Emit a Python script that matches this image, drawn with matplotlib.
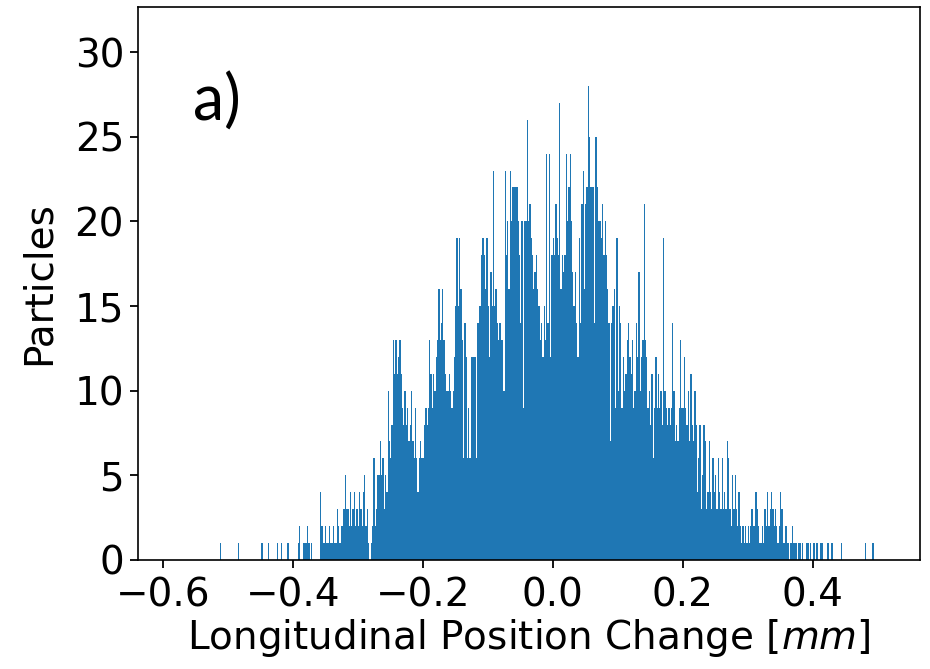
import numpy as np
import matplotlib
matplotlib.use("Agg")
import matplotlib.pyplot as plt

# histogramm: bins of 0.002 mm from -0.52 to 0.50, counts
bin_start = -0.52
bin_width = 0.002
counts = [
    0, 0, 0, 0, 1, 0, 0, 0, 0, 0,
    0, 0, 0, 0, 0, 0, 0, 0, 1, 0,
    0, 0, 0, 0, 0, 0, 0, 0, 0, 0,
    0, 0, 0, 0, 0, 0, 1, 0, 0, 0,
    0, 1, 0, 0, 0, 0, 0, 0, 1, 0,
    0, 1, 0, 0, 0, 0, 1, 0, 0, 0,
    0, 0, 0, 0, 1, 2, 0, 0, 1, 1,
    1, 2, 1, 0, 1, 0, 0, 0, 0, 0,
    0, 4, 2, 1, 1, 2, 1, 1, 2, 1,
    1, 2, 1, 1, 3, 2, 1, 2, 2, 3,
    5, 3, 3, 2, 4, 2, 3, 4, 2, 3,
    2, 4, 3, 2, 4, 5, 2, 3, 1, 0,
    1, 2, 6, 2, 3, 5, 5, 7, 5, 6,
    3, 5, 4, 10, 7, 6, 8, 13, 11, 13,
    11, 12, 13, 11, 9, 8, 10, 8, 9, 7,
    8, 10, 7, 6, 9, 6, 4, 6, 7, 6,
    6, 8, 9, 8, 9, 13, 11, 9, 11, 10,
    12, 13, 16, 13, 14, 16, 13, 11, 10, 10,
    11, 10, 9, 10, 12, 15, 19, 15, 19, 16,
    13, 6, 14, 12, 6, 9, 6, 12, 12, 12,
    12, 6, 14, 15, 15, 18, 19, 18, 16, 19,
    15, 12, 17, 15, 23, 15, 16, 14, 13, 14,
    13, 13, 10, 23, 18, 20, 16, 23, 20, 22,
    22, 22, 22, 20, 18, 14, 20, 9, 20, 20,
    26, 20, 21, 19, 18, 16, 17, 18, 16, 15,
    13, 14, 12, 15, 13, 24, 14, 24, 12, 18,
    19, 18, 21, 19, 18, 27, 16, 18, 17, 18,
    24, 20, 22, 24, 20, 17, 15, 17, 14, 12,
    19, 14, 21, 23, 16, 21, 22, 28, 25, 22,
    22, 22, 14, 25, 22, 20, 20, 19, 21, 18,
    20, 18, 16, 14, 7, 14, 15, 16, 9, 19,
    10, 15, 14, 9, 12, 10, 11, 13, 14, 12,
    11, 13, 9, 10, 14, 12, 17, 10, 12, 13,
    21, 13, 12, 9, 10, 8, 11, 6, 9, 12,
    9, 11, 9, 10, 8, 19, 10, 9, 8, 9,
    8, 9, 14, 10, 7, 8, 7, 9, 13, 9,
    9, 12, 9, 8, 10, 7, 11, 8, 7, 10,
    8, 4, 6, 8, 3, 5, 8, 7, 3, 4,
    7, 4, 3, 6, 4, 5, 3, 6, 4, 3,
    6, 3, 4, 3, 7, 6, 3, 2, 5, 3,
    5, 3, 2, 4, 2, 1, 2, 1, 2, 1,
    2, 1, 2, 3, 2, 2, 4, 3, 2, 1,
    1, 2, 1, 3, 2, 4, 2, 3, 4, 3,
    2, 3, 2, 1, 2, 4, 3, 1, 1, 2,
    1, 1, 0, 1, 2, 1, 1, 1, 0, 1,
    1, 0, 1, 0, 0, 1, 1, 0, 1, 0,
    1, 1, 0, 1, 0, 0, 1, 1, 0, 0,
    0, 1, 1, 0, 1, 1, 0, 0, 0, 0,
    0, 0, 1, 0, 0, 0, 0, 0, 0, 0,
    0, 0, 0, 0, 0, 0, 0, 0, 0, 0,
    1, 0, 0, 0, 0, 0, 1, 0, 0, 0,
]
x_ticks = [-0.6, -0.4, -0.2, 0.0, 0.2, 0.4]
y_ticks = [0, 5, 10, 15, 20, 25, 30]

counts = np.array(counts)
edges = bin_start + bin_width * np.arange(len(counts) + 1)
centers = 0.5 * (edges[:-1] + edges[1:])

fig = plt.figure(figsize=(9.3, 6.69), dpi=100)
ax = fig.add_axes([0.1484, 0.163, 0.8406, 0.8265])

ax.hist(centers, bins=edges, weights=counts, color='#1f77b4', linewidth=0)

ax.set_xlim(-0.638, 0.565)
ax.set_ylim(0, 32.66)
ax.set_xticks(x_ticks)
ax.set_yticks(y_ticks)
ax.tick_params(labelsize=28, width=1.3, length=6)
ax.tick_params(axis='x', pad=6)
ax.tick_params(axis='y', pad=4)
for s in ax.spines.values():
    s.set_linewidth(1.2)

ax.set_xlabel('Longitudinal Position Change [$mm$]', fontsize=28, labelpad=2)
ax.set_ylabel('Particles', fontsize=28, labelpad=12)

fig.text(0.207, 0.82, 'a)', fontsize=45, family='Lato')

fig.savefig('out.png', dpi=100)
